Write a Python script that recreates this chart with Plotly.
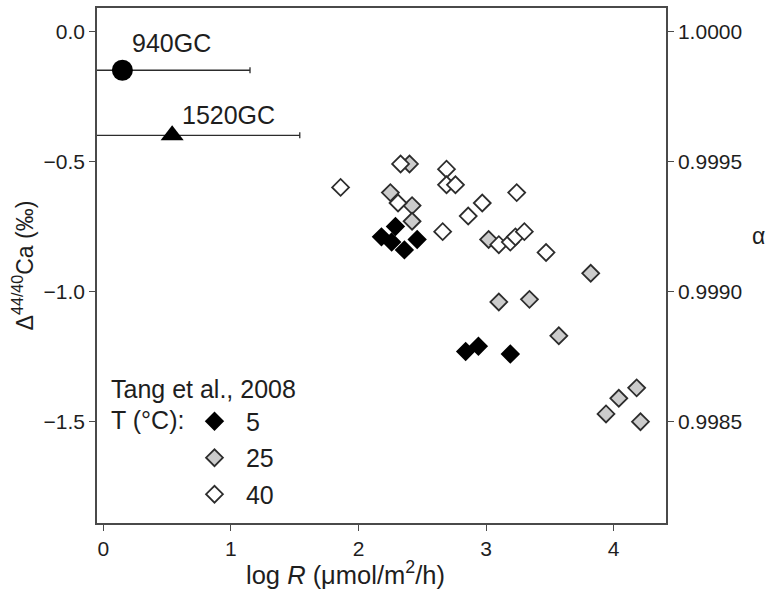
import plotly.graph_objects as go

# Sediment cores: log R and Δ44/40Ca with the spread on log R
core_names = ["940GC", "1520GC"]
core_logR = [0.15, 0.54]
core_delta = [-0.15, -0.40]
core_logR_err = [1.0, 1.0]
core_symbols = ["circle", "triangle-up"]
core_label_lift = [27, 20]

# Tang et al., 2008 inorganic calcite, grouped by temperature (°C)
temp_labels = ["5", "25", "40"]

t5_logR = [2.18, 2.29, 2.26, 2.36, 2.46, 2.84, 2.94, 3.19]
t5_delta = [-0.79, -0.75, -0.81, -0.84, -0.80, -1.23, -1.21, -1.24]

t25_logR = [2.40, 2.25, 2.42, 2.42, 3.02, 3.82, 3.10, 3.34, 3.57,
            3.94, 4.04, 4.18, 4.21]
t25_delta = [-0.51, -0.62, -0.67, -0.73, -0.80, -0.93, -1.04, -1.03, -1.17,
             -1.47, -1.41, -1.37, -1.50]

t40_logR = [1.86, 2.33, 2.31, 2.69, 2.69, 2.76, 2.66, 2.86, 2.97, 3.24,
            3.10, 3.19, 3.23, 3.30, 3.47]
t40_delta = [-0.60, -0.51, -0.66, -0.53, -0.59, -0.59, -0.77, -0.71, -0.66,
             -0.62, -0.82, -0.81, -0.79, -0.77, -0.85]

x_ticks = [0, 1, 2, 3, 4]
delta_ticks = [0.0, -0.5, -1.0, -1.5]
alpha_ticks = [1.0000, 0.9995, 0.9990, 0.9985]

x_range = [-0.049, 4.41]
delta_range = [-1.889, 0.089]
# α = 1 + Δ/1000, so the right axis mirrors the left one
alpha_range = [1 + v / 1000 for v in delta_range]

FONT = "Liberation Sans, Arial, sans-serif"
INK = "#1e1e1e"
EDGE = "#2c2c2c"
AXIS = "#4a4a4a"

fig = go.Figure()

diamond_sets = [
    (temp_labels[0], t5_logR, t5_delta, "#000000", "#000000"),
    (temp_labels[1], t25_logR, t25_delta, "#cccccc", EDGE),
    (temp_labels[2], t40_logR, t40_delta, "#ffffff", EDGE),
]
for name, xs, ys, fill, edge in diamond_sets:
    fig.add_trace(go.Scatter(
        x=xs, y=ys, mode="markers", name="\u00a0" + name, legendgroup=name,
        marker=dict(symbol="diamond", size=13, color=fill, opacity=1,
                    line=dict(color=edge, width=1.8)),
    ))

fig.add_trace(go.Scatter(
    x=core_logR, y=core_delta, mode="markers",
    marker=dict(symbol=core_symbols, size=[21, 20], color="#000000",
                opacity=1, line=dict(color="#000000", width=0)),
    error_x=dict(type="data", array=core_logR_err, symmetric=True,
                 color=EDGE, thickness=1.3, width=3),
    showlegend=False,
))

# carrier for the α axis on the right
fig.add_trace(go.Scatter(
    x=[x_range[0]], y=[alpha_range[1]], yaxis="y2", mode="markers",
    marker=dict(opacity=0), showlegend=False, hoverinfo="skip",
))

annotations = [
    dict(text=name, x=xv, y=yv, xref="x", yref="y", xanchor="left",
         yanchor="middle", xshift=8, yshift=lift, showarrow=False,
         font=dict(size=25))
    for name, xv, yv, lift in zip(core_names, core_logR, core_delta,
                                  core_label_lift)
]
annotations += [
    dict(text="log <i>R</i> (μmol/m<sup>2</sup>/h)", xref="paper",
         yref="paper", x=(345 - 97) / 569, y=(523 - 573) / 517,
         xanchor="center", yanchor="middle", showarrow=False,
         font=dict(size=25.5)),
    dict(text="α", xref="paper", yref="paper",
         x=(758 - 97) / 569, y=(523 - 235) / 517,
         xanchor="center", yanchor="middle", showarrow=False,
         font=dict(size=23)),
    dict(text="Tang et al., 2008", xref="paper", yref="paper",
         x=(109 - 97) / 569, y=(523 - 388) / 517,
         xanchor="left", yanchor="middle", showarrow=False,
         font=dict(size=25)),
    dict(text="T (°C):", xref="paper", yref="paper",
         x=(109 - 97) / 569, y=(523 - 420) / 517,
         xanchor="left", yanchor="middle", showarrow=False,
         font=dict(size=25)),
]

fig.update_layout(
    width=771, height=590,
    margin=dict(l=97, r=105, t=6, b=67),
    paper_bgcolor="white", plot_bgcolor="white",
    font=dict(family=FONT, size=21, color=INK),
    showlegend=True,
    legend=dict(
        x=(190 - 97) / 569, y=(523 - 398) / 517,
        xanchor="left", yanchor="top",
        bgcolor="rgba(0,0,0,0)",
        font=dict(family=FONT, size=25, color=INK),
        itemsizing="trace", itemwidth=39,
        tracegroupgap=1,
    ),
    xaxis=dict(
        range=x_range, tickvals=x_ticks, ticks="outside", ticklen=6,
        tickwidth=1.3, tickcolor=AXIS, showline=True, linecolor=AXIS,
        linewidth=1.5, mirror=True, showgrid=False, zeroline=False,
        tickfont=dict(size=21),
    ),
    yaxis=dict(
        range=delta_range, tickvals=delta_ticks, tickformat=".1f",
        ticks="outside", ticklen=6, tickwidth=1.3, tickcolor=AXIS,
        showline=True, linecolor=AXIS, linewidth=1.5, mirror=True,
        showgrid=False, zeroline=False, tickfont=dict(size=21),
        title=dict(text="Δ<sup>44/40</sup>Ca (‰)", standoff=4,
                   font=dict(size=23)),
    ),
    yaxis2=dict(
        range=alpha_range, overlaying="y", side="right",
        tickvals=alpha_ticks, tickformat=".4f", ticks="outside", ticklen=6,
        tickwidth=1.3, tickcolor=AXIS, showline=True, linecolor=AXIS,
        linewidth=1.5, showgrid=False, zeroline=False,
        tickfont=dict(size=21),
    ),
    annotations=annotations,
)

fig.write_html("out.html")
